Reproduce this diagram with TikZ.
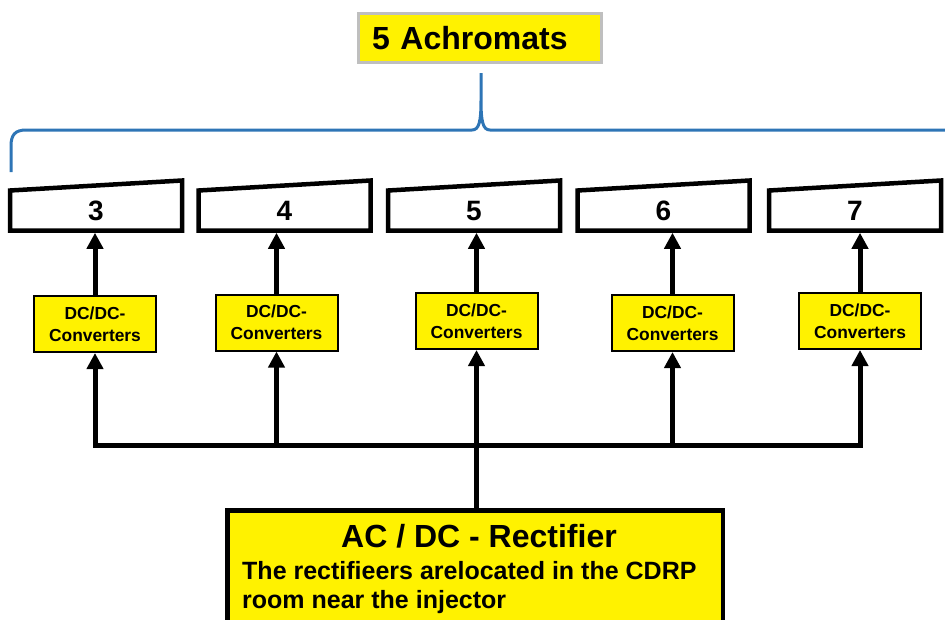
\documentclass[tikz,border=0pt]{standalone}
\usepackage{fontspec}
\setmainfont{Liberation Sans}
\usetikzlibrary{arrows.meta}
\definecolor{braceblue}{RGB}{46,117,182}
\definecolor{framegray}{RGB}{191,191,191}
\begin{document}
\begin{tikzpicture}[x=1pt,y=-1pt,
  magnet/.style={minimum width=172pt, minimum height=40pt, inner sep=0pt, outer sep=0pt,
    font=\fontsize{28}{32}\selectfont\bfseries},
  magframe/.style={line width=4.5pt},
  conv/.style={draw, line width=2pt, fill=yellow, minimum width=122pt, minimum height=56pt,
    inner sep=0pt, align=center, font=\fontsize{17.4}{22}\selectfont\bfseries},
  feed/.style={line width=5pt},
  conn/.style={feed, -{Triangle[width=16pt,length=16pt]}},
  bracestyle/.style={draw=braceblue, line width=3pt}]

\clip (0,0) rectangle (945,619);

% title
\node[draw=framegray, line width=3pt, fill=yellow, text width=216pt, inner xsep=13.5pt,
  inner ysep=0pt, minimum height=49pt, align=left,
  font=\fontsize{32}{36}\selectfont\bfseries] (title) at (480,38) {5 Achromats};

% curly brace over the magnets
\draw[bracestyle] (11,172) -- (11,146) .. controls (11,135) and (15,130) .. (26,130)
  -- (472,130) .. controls (479,130) and (481,122) .. (481,100) -- (481,73)
  -- (481,100) .. controls (481,122) and (483,130) .. (490,130) -- (960,130);

% magnets
\foreach \n/\x in {3/96,4/284.5,5/474,6/663.5,7/855}{
  \node[magnet] (mag\n) at (\x,210.5) {\n};
  \draw[magframe] (mag\n.south west) -- (mag\n.north west)
    -- ([yshift=10pt]mag\n.north east) -- (mag\n.south east) -- cycle;
}

% DC/DC converters
\node[conv] (dc1) at (95,324)    {DC/DC-\\Converters};
\node[conv] (dc2) at (276.5,322.5) {DC/DC-\\Converters};
\node[conv] (dc3) at (476.5,321) {DC/DC-\\Converters};
\node[conv] (dc4) at (672.5,323) {DC/DC-\\Converters};
\node[conv] (dc5) at (860,321)   {DC/DC-\\Converters};

% converter -> magnet
\foreach \i/\n in {1/3,2/4,3/5,4/6,5/7}
  \draw[conn, shorten >=2.25pt] (dc\i.north) -- (dc\i.north |- mag\n.south);

% rectifier
\node[draw, line width=4.5pt, fill=yellow, minimum width=495.5pt, minimum height=160pt,
  inner sep=0pt, anchor=north] (rect) at (475,508) {};
\node[font=\fontsize{32}{36}\selectfont\bfseries, anchor=base, inner sep=0pt]
  (rhead) at (479,547) {AC / DC - Rectifier};
\node[font=\fontsize{25}{29}\selectfont\bfseries, anchor=base west, inner sep=0pt]
  (rbody1) at (242,579) {The rectifieers arelocated in the CDRP};
\node[font=\fontsize{25}{29}\selectfont\bfseries, anchor=base west, inner sep=0pt]
  (rbody2) at (242,608) {room near the injector};

% distribution bus
\coordinate (busy) at (0,445);
\foreach \i in {1,...,5}
  \coordinate (j\i) at (dc\i.south |- busy);
\draw[feed, {Triangle[width=16pt,length=16pt]}-{Triangle[width=16pt,length=16pt]}]
  (dc1.south) -- (j1) -- (j5) -- (dc5.south);
\foreach \i in {2,3,4}
  \draw[conn] (j\i) -- (dc\i.south);
\draw[feed] (rect.north -| j3) -- (j3);

\end{tikzpicture}
\end{document}
